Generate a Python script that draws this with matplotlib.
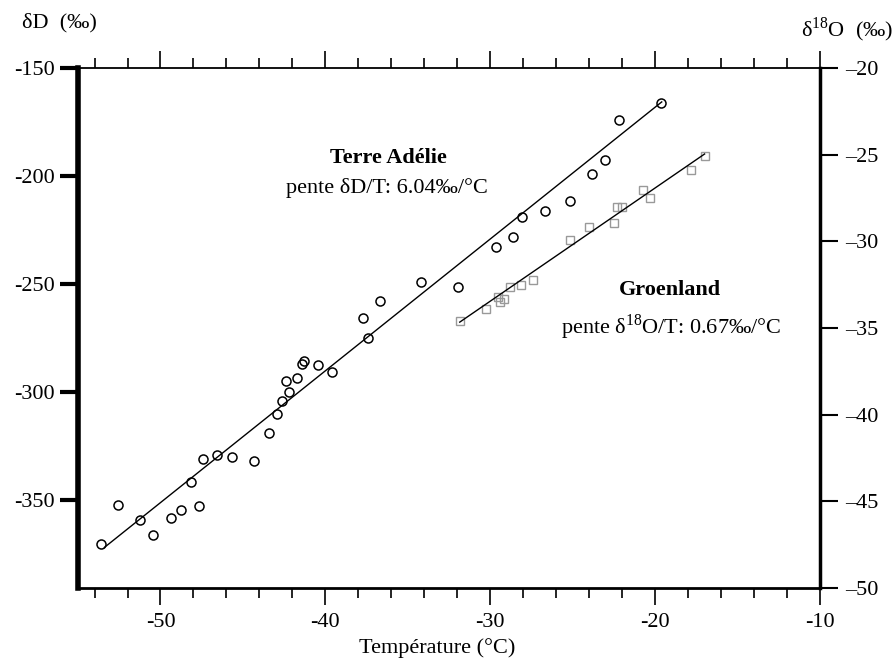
import numpy as np
import matplotlib
matplotlib.use("Agg")
import matplotlib.pyplot as plt
from matplotlib.ticker import MultipleLocator, FuncFormatter

plt.rcParams['font.family'] = ['Liberation Serif', 'DejaVu Serif']
plt.rcParams['mathtext.fontset'] = 'custom'
plt.rcParams['mathtext.rm'] = 'Liberation Serif'
plt.rcParams['axes.unicode_minus'] = False

# Terre Adelie (deltaD, left axis)
ta_temp = [-53.6, -52.56, -51.26, -50.44, -49.34, -48.74, -48.14, -47.64, -47.4, -46.56,
           -45.64, -44.3, -43.4, -42.96, -42.64, -42.4, -42.2, -41.7, -41.4, -41.28,
           -40.42, -39.6, -37.71, -37.41, -36.7, -34.17, -31.95, -29.68, -28.62, -28.05,
           -26.7, -25.18, -23.83, -23.06, -22.21, -19.62]
ta_dD = [-370.4, -352.4, -359.1, -366.2, -358.6, -354.7, -341.8, -352.7, -331.1, -329.1,
         -330.3, -332.1, -318.9, -310.4, -304.4, -295.0, -300.0, -293.4, -287.1, -285.5,
         -287.4, -290.6, -265.9, -275.1, -257.7, -248.9, -251.3, -233.0, -228.4, -218.8,
         -216.2, -211.4, -199.1, -192.6, -174.1, -166.1]
ta_fit_x = [-53.4, -19.6]
ta_fit_y = [-372.0, -165.7]

# Groenland (delta18O, right axis)
gr_temp = [-31.85, -30.23, -29.53, -29.38, -29.18, -28.82, -28.11, -27.41, -25.18, -24.01,
           -22.52, -22.32, -22.01, -20.74, -20.33, -17.81, -17.0]
gr_d18O = [-34.57, -33.91, -33.19, -33.49, -33.33, -32.62, -32.52, -32.23, -29.92, -29.16,
           -28.96, -28.0, -28.0, -27.04, -27.52, -25.89, -25.08]
gr_fit_x = [-31.85, -17.0]
gr_fit_y = [-34.66, -24.96]

fig = plt.figure(figsize=(8.96, 6.59), dpi=100)
ax = fig.add_axes([0.0871, 0.1077, 0.8281, 0.7891])
ax2 = ax.twinx()

ax.plot(ta_temp, ta_dD, 'o', ms=6.5, mfc='none', mec='black', mew=1.1)
ax.plot(ta_fit_x, ta_fit_y, color='black', lw=1.0)
ax2.plot(gr_temp, gr_d18O, 's', ms=5.5, mfc='none', mec='#999999', mew=1.0)
ax2.plot(gr_fit_x, gr_fit_y, color='black', lw=1.0)

ax.set_xlim(-55, -10)
ax.set_ylim(-390.8, -150)
ax2.set_ylim(-50, -20)

ax.set_xticks([-50, -40, -30, -20, -10])
ax.xaxis.set_minor_locator(MultipleLocator(2))
ax.set_yticks([-150, -200, -250, -300, -350])
ax2.set_yticks([-20, -25, -30, -35, -40, -45, -50])
ax2.yaxis.set_major_formatter(FuncFormatter(lambda v, p: '\u2013%d' % abs(v)))

ax.tick_params(axis='x', which='major', direction='out', length=12, width=1.2,
               top=True, labelsize=16, pad=6)
ax.tick_params(axis='x', which='minor', direction='out', length=7, width=1.2, top=True)
ax.tick_params(axis='y', which='major', direction='out', length=13, width=3,
               labelsize=16, pad=4)
ax2.tick_params(axis='y', which='major', direction='out', length=13, width=1.5,
                labelsize=16, pad=5)

for name, sp in ax.spines.items():
    sp.set_linewidth({'left': 4, 'bottom': 2, 'top': 1.3, 'right': 0}[name])
ax.spines['right'].set_visible(False)
for name in ['left', 'top', 'bottom']:
    ax2.spines[name].set_visible(False)
ax2.spines['right'].set_linewidth(2.5)

fig.text(0.024, 0.966, 'δD  (‰)', fontsize=16, ha='left', va='center')
fig.text(0.997, 0.955, 'δ$^{18}$O  (‰)', fontsize=16, ha='right', va='center')
fig.text(0.488, 0.017, 'Température (°C)', fontsize=16, ha='center', va='center')

fig.text(0.433, 0.760, 'Terre Adélie', fontsize=16, fontweight='bold', ha='center', va='center')
fig.text(0.432, 0.715, 'pente δD/T: 6.04‰/°C', fontsize=16, ha='center', va='center')
fig.text(0.748, 0.560, 'Groenland', fontsize=16, fontweight='bold', ha='center', va='center')
fig.text(0.749, 0.503, 'pente δ$^{18}$O/T: 0.67‰/°C', fontsize=16, ha='center', va='center')

fig.savefig('out.png', dpi=100)
